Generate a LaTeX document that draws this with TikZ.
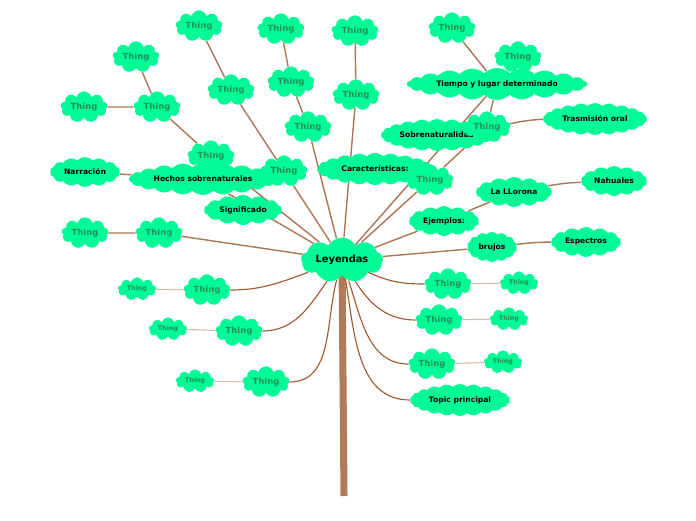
\documentclass[tikz,border=0pt]{standalone}
\usepackage{fontspec}
\setmainfont{DejaVu Sans}
\usetikzlibrary{shapes.symbols, backgrounds}
\definecolor{cloudgreen}{RGB}{0,250,150}
\definecolor{thinggreen}{RGB}{35,145,85}
\definecolor{branch}{RGB}{172,118,84}
\definecolor{curvebranch}{RGB}{160,88,45}
\definecolor{twig}{RGB}{218,188,165}
\definecolor{trunk}{RGB}{176,123,90}

\tikzstyle{topic} = [
cloud,
cloud puffs=14,
cloud puff arc=100,
cloud ignores aspect,
fill=cloudgreen,
inner sep=0pt,
text=black,
font=\bfseries\fontsize{5.4}{6}\selectfont,
minimum height=0.75cm]
\tikzstyle{widetopic} = [
topic,
cloud puffs=22,
cloud puff arc=90,
minimum height=0.8cm]
\tikzstyle{central} = [
topic,
cloud puffs=9,
cloud puff arc=120,
font=\bfseries\fontsize{7}{8}\selectfont,
minimum width=2.05cm,
minimum height=1.12cm]
\tikzstyle{thing} = [
cloud,
cloud puffs=9,
cloud ignores aspect,
fill=cloudgreen,
inner sep=0pt,
text=thinggreen,
font=\bfseries\fontsize{6}{7}\selectfont,
minimum width=1.17cm,
minimum height=0.78cm]
\tikzstyle{smallthing} = [
thing,
font=\bfseries\fontsize{4.5}{5}\selectfont,
minimum width=0.95cm,
minimum height=0.58cm]
\tikzstyle{branchline} = [
draw=branch,
line width=1pt]
\tikzstyle{curveline} = [
draw=curvebranch,
line width=0.8pt]
\tikzstyle{twigline} = [
draw=twig,
line width=0.8pt]

\begin{document}
\begin{tikzpicture}[x=0.025cm, y=-0.025cm]
\useasboundingbox (0,0) rectangle (696,520);

\coordinate (trunkEnd) at (344,496);

% centro
\node[central] (leyendas) at (342,260) {Leyendas};

% lado izquierdo
\node[thing] (thingD1) at (211,156) {Thing};
\node[widetopic, minimum width=3.7cm] (hechos) at (203,179) {Hechos sobrenaturales};
\node[thing] (thingD2) at (157,107) {Thing};
\node[thing] (thingD3) at (136,57) {Thing};
\node[thing] (thingD4) at (84,107) {Thing};
\node[topic, minimum width=1.75cm] (narracion) at (85,172) {Narración};
\node[topic, minimum width=1.95cm] (significado) at (243,210) {Significado};
\node[thing] (thingA1) at (284,171) {Thing};
\node[thing] (thingA2) at (231,90) {Thing};
\node[thing] (thingA3) at (199,26) {Thing};
\node[thing] (thingB1) at (308,127) {Thing};
\node[thing] (thingB2) at (291,82) {Thing};
\node[thing] (thingB3) at (281,29) {Thing};
\node[thing] (thingE1) at (159,233) {Thing};
\node[thing] (thingE2) at (85,233) {Thing};
\node[thing] (thingK1) at (207,290) {Thing};
\node[smallthing] (thingK2) at (137,289) {Thing};
\node[thing] (thingL1) at (239,331) {Thing};
\node[smallthing] (thingL2) at (168,329) {Thing};
\node[thing] (thingM1) at (266,382) {Thing};
\node[smallthing] (thingM2) at (195,381) {Thing};

% lado derecho
\node[thing] (thingC1) at (356,95) {Thing};
\node[thing] (thingC2) at (355,31) {Thing};
\node[widetopic, minimum width=2.9cm] (caracteristicas) at (375,169) {Características:};
\node[thing] (thingF1) at (430,180) {Thing};
\node[widetopic, minimum width=2.8cm] (sobrenat) at (437,135) {Sobrenaturalidad};
\node[thing] (thingF2) at (487,127) {Thing};
\node[thing] (thingG1) at (452,28) {Thing};
\node[thing] (thingG2) at (518,57) {Thing};
\node[widetopic, minimum width=4.5cm] (tiempo) at (497,84) {Tiempo y lugar determinado};
\node[widetopic, minimum width=2.6cm] (trasmision) at (595,119) {Trasmisión oral};
\node[topic, minimum width=1.75cm] (ejemplos) at (444,221) {Ejemplos:};
\node[topic, minimum width=1.9cm] (llorona) at (514,192) {La LLorona};
\node[topic, minimum width=1.65cm] (nahuales) at (614,181) {Nahuales};
\node[topic, minimum width=1.25cm] (brujos) at (492,247) {brujos};
\node[topic, minimum width=1.75cm] (espectros) at (586,242) {Espectros};
\node[thing] (thingH1) at (448,284) {Thing};
\node[smallthing] (thingH2) at (519,283) {Thing};
\node[thing] (thingI1) at (439,320) {Thing};
\node[smallthing] (thingI2) at (509,319) {Thing};
\node[thing] (thingJ1) at (432,364) {Thing};
\node[smallthing] (thingJ2) at (503,362) {Thing};
\node[widetopic, minimum width=2.5cm] (topic) at (460,400) {Topic principal};

\begin{scope}[on background layer]
\draw[draw=trunk, line width=5pt] (leyendas.center) -- (trunkEnd);

\draw[branchline] (leyendas) -- (thingA1) -- (thingA2) -- (thingA3);
\draw[branchline] (leyendas) -- (thingB1) -- (thingB2) -- (thingB3);
\draw[branchline] (leyendas) -- (thingC1) -- (thingC2);
\draw[branchline] (leyendas) -- (hechos);
\draw[branchline] (hechos) -- (narracion);
\draw[branchline] (leyendas) -- (thingD1) -- (thingD2) -- (thingD3);
\draw[branchline] (thingD2) -- (thingD4);
\draw[branchline] (leyendas) -- (thingE1) -- (thingE2);
\draw[branchline] (leyendas) -- (tiempo);
\draw[branchline] (leyendas) -- (thingF1) -- (thingF2) -- (tiempo);
\draw[branchline] (tiempo) -- (thingG1);
\draw[branchline] (tiempo) -- (thingG2);
\draw[branchline] (thingF2) to[bend left=4] (trasmision);
\draw[branchline] (leyendas) -- (ejemplos) -- (llorona);
\draw[branchline] (llorona) to[bend left=4] (nahuales);
\draw[branchline] (leyendas) -- (brujos);
\draw[branchline] (brujos) to[bend left=3] (espectros);

\draw[curveline] (leyendas) to[out=200, in=0] (thingK1);
\draw[curveline] (leyendas) to[out=235, in=0] (thingL1);
\draw[curveline] (leyendas) to[out=255, in=0] (thingM1);
\draw[curveline] (leyendas) to[out=-25, in=180] (thingH1);
\draw[curveline] (leyendas) to[out=-58, in=180] (thingI1);
\draw[curveline] (leyendas) to[out=-72, in=180] (thingJ1);
\draw[curveline] (leyendas) to[out=-80, in=180] (topic);

\draw[twigline] (thingK1) -- (thingK2);
\draw[twigline] (thingL1) -- (thingL2);
\draw[twigline] (thingM1) -- (thingM2);
\draw[twigline] (thingH1) -- (thingH2);
\draw[twigline] (thingI1) -- (thingI2);
\draw[twigline] (thingJ1) -- (thingJ2);
\end{scope}

\end{tikzpicture}
\end{document}
